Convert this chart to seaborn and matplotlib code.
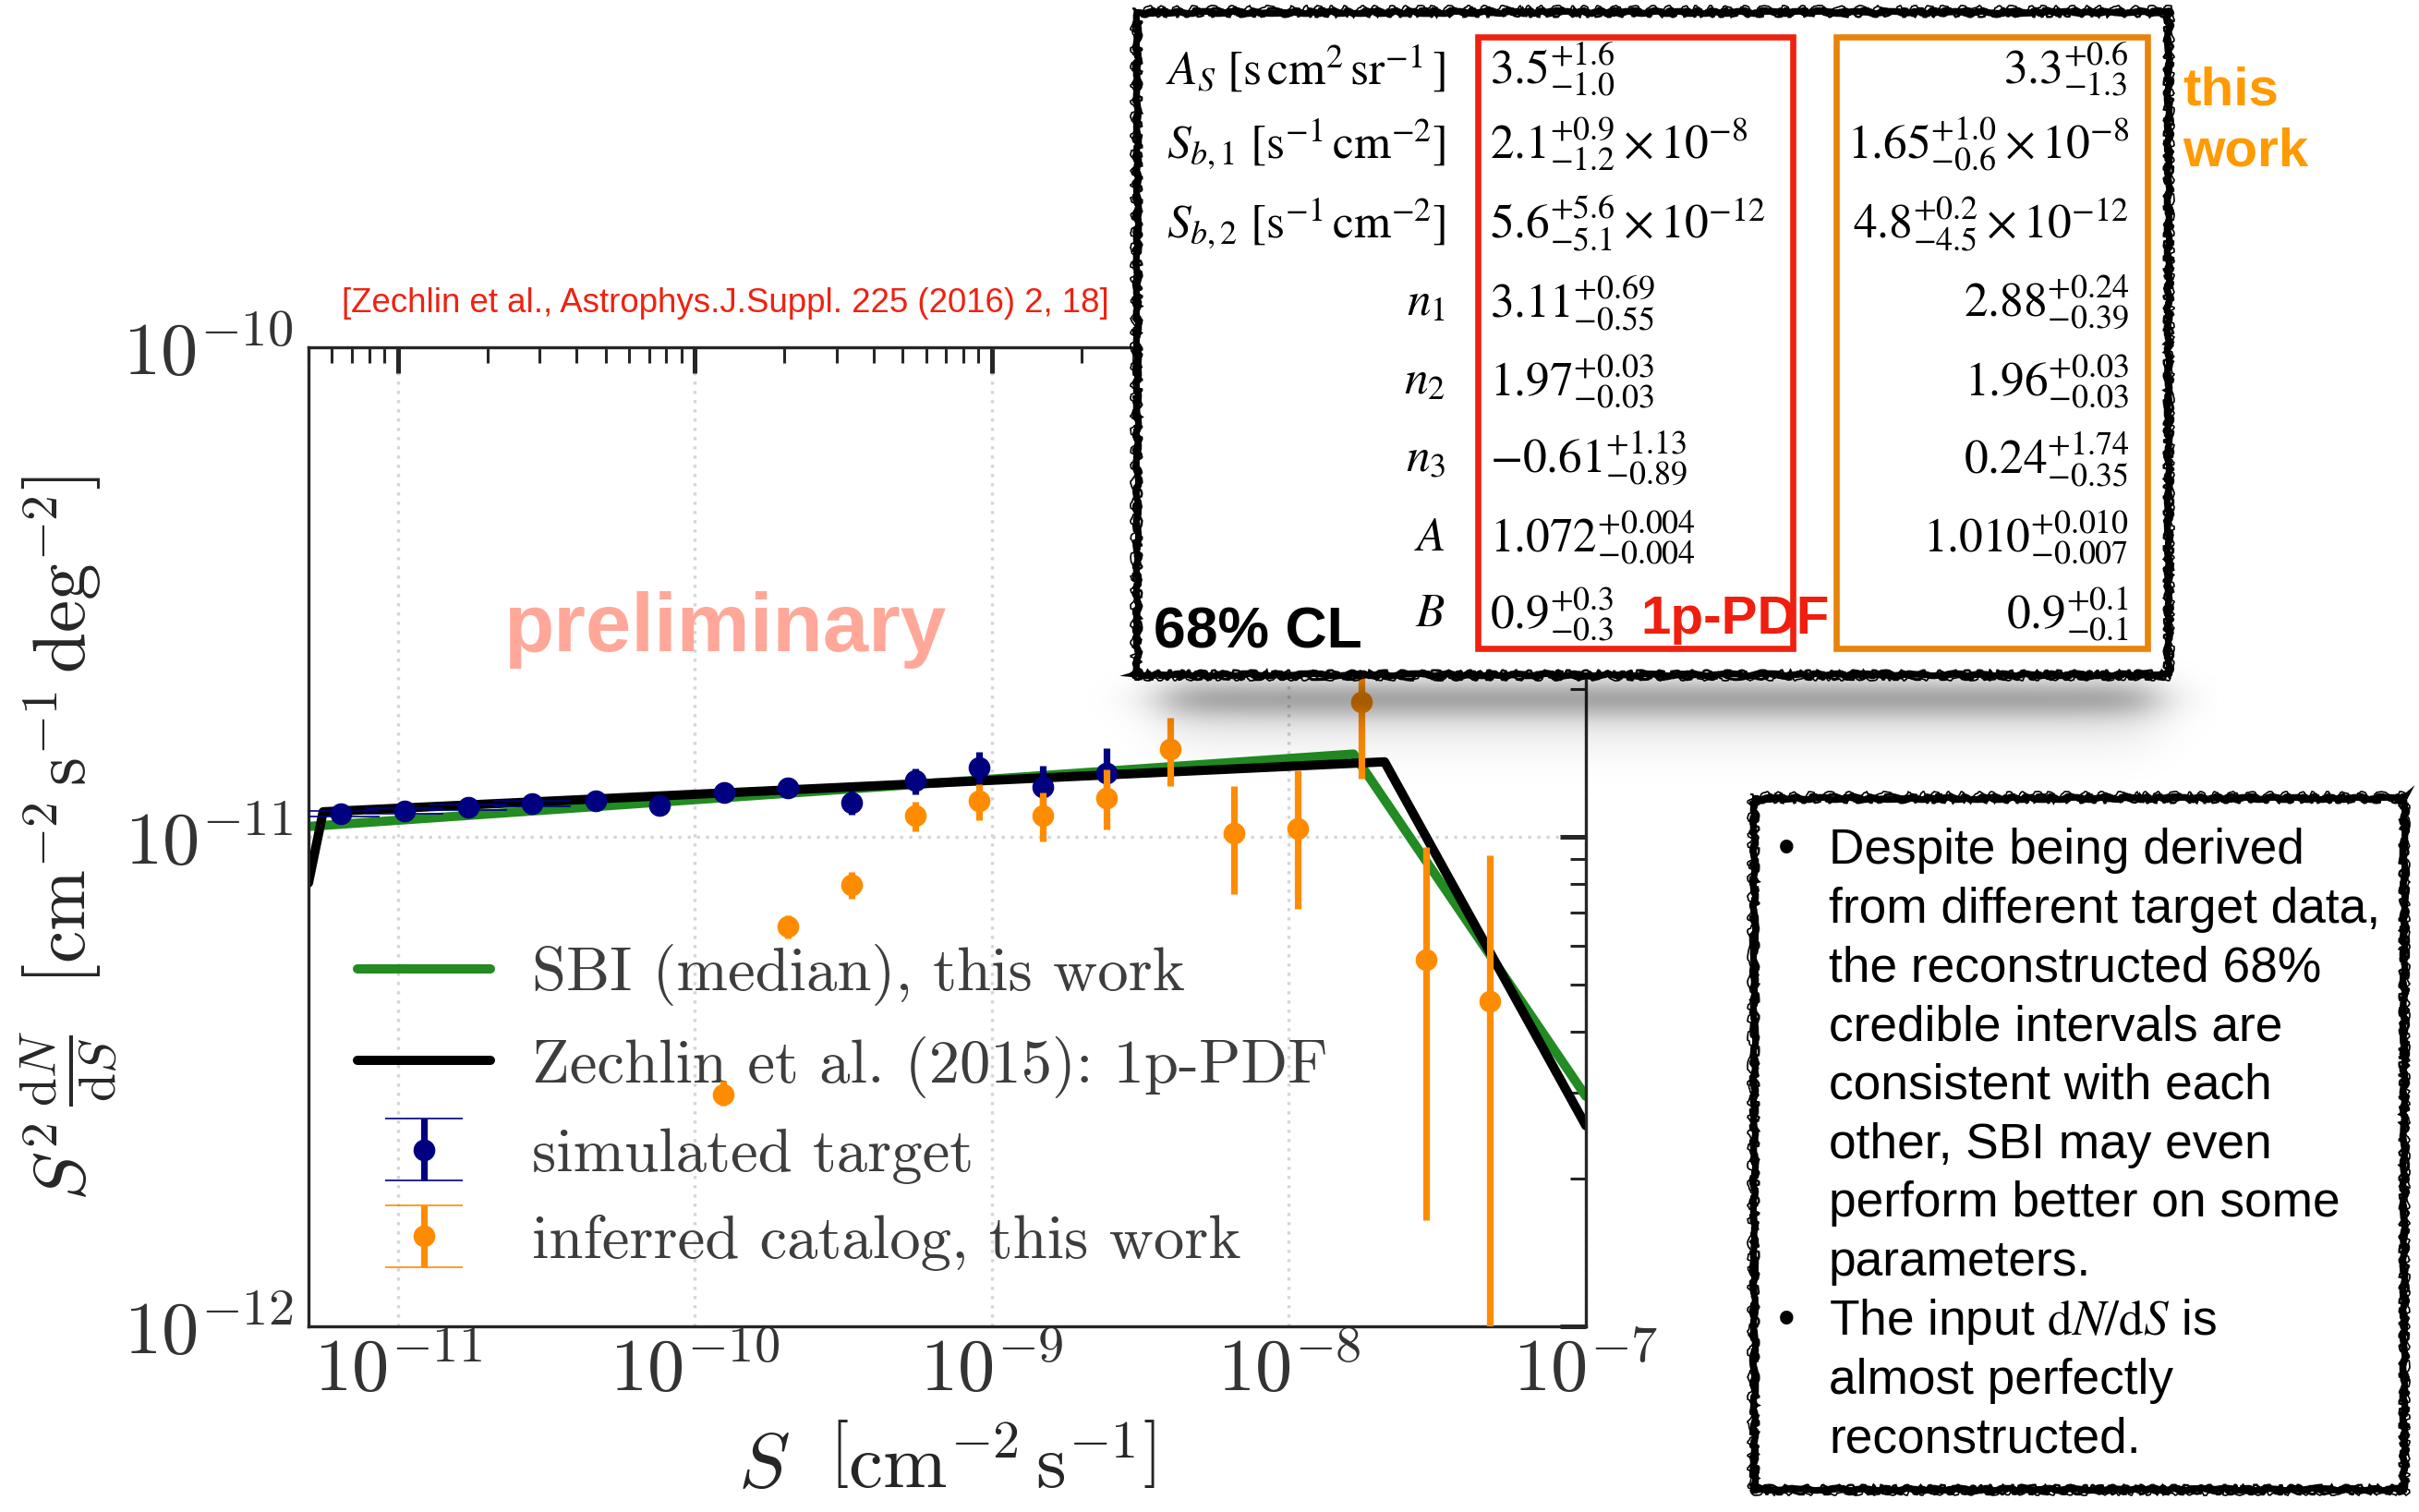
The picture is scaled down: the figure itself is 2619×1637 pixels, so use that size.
import numpy as np
import matplotlib
matplotlib.use("Agg")
import matplotlib.pyplot as plt
from matplotlib.patches import Rectangle
import pandas as pd
import seaborn as sns

# ---------------------------------------------------------------- data
# simulated target catalogue (S, S^2 dN/dS with 68% band)
sim_S = [6.42e-12, 1.05e-11, 1.73e-11, 2.83e-11, 4.64e-11, 7.6e-11, 1.25e-10,
         2.05e-10, 3.36e-10, 5.52e-10, 9.03e-10, 1.48e-9, 2.43e-9]
sim_flux = [1.117e-11, 1.13e-11, 1.15e-11, 1.17e-11, 1.185e-11, 1.16e-11, 1.23e-11,
            1.26e-11, 1.175e-11, 1.303e-11, 1.385e-11, 1.266e-11, 1.349e-11]
sim_lo = [1.10e-11, 1.115e-11, 1.135e-11, 1.155e-11, 1.165e-11, 1.14e-11, 1.205e-11,
          1.235e-11, 1.112e-11, 1.219e-11, 1.287e-11, 1.137e-11, 1.213e-11]
sim_hi = [1.13e-11, 1.145e-11, 1.165e-11, 1.185e-11, 1.205e-11, 1.18e-11, 1.255e-11,
          1.285e-11, 1.241e-11, 1.382e-11, 1.493e-11, 1.397e-11, 1.52e-11]

# inferred catalogue (this work)
cat_S = [1.245e-10, 2.05e-10, 3.36e-10, 5.52e-10, 9.03e-10, 1.48e-9, 2.43e-9,
         3.99e-9, 6.54e-9, 1.072e-8, 1.758e-8, 2.90e-8, 4.74e-8]
cat_flux = [2.98e-12, 6.56e-12, 7.98e-12, 1.105e-11, 1.186e-11, 1.106e-11, 1.202e-11,
            1.508e-11, 1.017e-11, 1.042e-11, 1.882e-11, 5.61e-12, 4.62e-12]
cat_lo = [2.82e-12, 6.19e-12, 7.48e-12, 1.028e-11, 1.081e-11, 9.80e-12, 1.036e-11,
          1.268e-11, 7.65e-12, 7.14e-12, 1.315e-11, 1.65e-12, 5.0e-13]
cat_hi = [3.18e-12, 6.90e-12, 8.48e-12, 1.18e-11, 1.283e-11, 1.234e-11, 1.375e-11,
          1.755e-11, 1.27e-11, 1.369e-11, 2.6e-11, 9.54e-12, 9.18e-12]

# broken power laws (vertices at the breaks)
sbi_S = [5e-12, 1.65e-8, 1e-7]
sbi_flux = [1.05e-11, 1.476e-11, 2.95e-12]
zech_S = [5e-12, 5.6e-12, 2.1e-8, 1e-7]
zech_flux = [8.05e-12, 1.125e-11, 1.423e-11, 2.57e-12]

x_ticks = [1e-11, 1e-10, 1e-9, 1e-8, 1e-7]
x_ticklabels = [r"$10^{-11}$", r"$10^{-10}$", r"$10^{-9}$", r"$10^{-8}$", r"$10^{-7}$"]
y_ticks = [1e-12, 1e-11, 1e-10]
y_ticklabels = [r"$10^{-12}$", r"$10^{-11}$", r"$10^{-10}$"]

legend_labels = ["SBI (median), this work", "Zechlin et al. (2015): 1p-PDF",
                 "simulated target", "inferred catalog, this work"]

# parameter table (68% CL)
row_labels = [r"$A_S\ [\mathrm{s\,cm^2\,sr^{-1}}\,]$",
              r"$S_{b,1}\ [\mathrm{s^{-1}\,cm^{-2}}]$",
              r"$S_{b,2}\ [\mathrm{s^{-1}\,cm^{-2}}]$",
              r"$n_1$", r"$n_2$", r"$n_3$", r"$A$", r"$B$"]
pdf_central = ["3.5", "2.1", "5.6", "3.11", "1.97", "-0.61", "1.072", "0.9"]
pdf_plus = ["1.6", "0.9", "5.6", "0.69", "0.03", "1.13", "0.004", "0.3"]
pdf_minus = ["1.0", "1.2", "5.1", "0.55", "0.03", "0.89", "0.004", "0.3"]
sbi_central = ["3.3", "1.65", "4.8", "2.88", "1.96", "0.24", "1.010", "0.9"]
sbi_plus = ["0.6", "1.0", "0.2", "0.24", "0.03", "1.74", "0.010", "0.1"]
sbi_minus = ["1.3", "0.6", "4.5", "0.39", "0.03", "0.35", "0.007", "0.1"]
row_exponent = [None, "-8", "-12", None, None, None, None, None]

bullet_lines = ["Despite being derived", "from different target data,",
                "the reconstructed 68%", "credible intervals are",
                "consistent with each", "other, SBI may even",
                "perform better on some", "parameters.",
                r"The input $\mathrm{d}N/\mathrm{d}S$ is", "almost perfectly",
                "reconstructed."]
bullet_starts = [0, 8]

# ---------------------------------------------------------------- style
sns.set_theme(style="white")
plt.rcParams["font.family"] = ["Liberation Sans", "DejaVu Sans"]
plt.rcParams["mathtext.fontset"] = "cm"

GREEN, BLACK, NAVY, ORANGE = "#228B22", "#000000", "#000080", "#FF8C00"
W, H, DPI = 2619, 1637, 200
fig = plt.figure(figsize=(W / DPI, H / DPI), dpi=DPI)
fig.patch.set_facecolor("white")

ax = fig.add_axes([334 / W, 1 - 1436 / H, (1717 - 334) / W, (1436 - 376) / H])
ax.set_xscale("log")
ax.set_yscale("log")

sbi_df = pd.DataFrame({"S": sbi_S, "flux": sbi_flux})
zech_df = pd.DataFrame({"S": zech_S, "flux": zech_flux})
sns.lineplot(data=sbi_df, x="S", y="flux", ax=ax, color=GREEN, lw=3.6,
             sort=False, estimator=None, zorder=2)
sns.lineplot(data=zech_df, x="S", y="flux", ax=ax, color=BLACK, lw=3.6,
             sort=False, estimator=None, zorder=2.1)
line_sbi, line_zech = ax.lines[-2], ax.lines[-1]

sim_S_a, sim_f = np.array(sim_S), np.array(sim_flux)
sim_err = [sim_f - np.array(sim_lo), np.array(sim_hi) - sim_f]
ax.errorbar(sim_S_a, sim_f, yerr=sim_err, fmt="o", color=NAVY, ms=7.5,
            elinewidth=2.6, capsize=0, zorder=3)
# thin caps of the narrow low-flux bins
ax.errorbar(sim_S_a[:4], sim_f[:4], yerr=[e[:4] for e in sim_err], fmt="none",
            ecolor=NAVY, elinewidth=0, capsize=15, capthick=0.6, zorder=3)

cat_S_a, cat_f = np.array(cat_S), np.array(cat_flux)
cat_err = [cat_f - np.array(cat_lo), np.array(cat_hi) - cat_f]
ax.errorbar(cat_S_a, cat_f, yerr=cat_err, fmt="o", color=ORANGE, ms=7.5,
            elinewidth=2.6, capsize=0, zorder=3.5)

ax.set_xlim(5e-12, 1e-7)
ax.set_ylim(1e-12, 1e-10)
ax.set_xlabel("")
ax.set_ylabel("")
ax.set_xticks(x_ticks)
ax.set_xticklabels(x_ticklabels)
ax.set_yticks(y_ticks)
ax.set_yticklabels(y_ticklabels)
ax.tick_params(which="major", direction="in", length=10, width=1.8, top=True,
               right=True, colors=".15", labelcolor=".2", labelsize=29)
ax.tick_params(axis="x", which="major", pad=4)
ax.tick_params(axis="y", which="major", pad=6)
ax.tick_params(which="minor", direction="in", length=6, width=1.1, top=True,
               right=True, colors=".15")
ax.grid(True, which="major", ls=(0, (1, 2)), lw=1.2, color="#d5d5d5")
ax.grid(False, which="minor")
for sp in ax.spines.values():
    sp.set_linewidth(1.2)
    sp.set_color(".15")

# legend handles for the error-bar entries (drawn on a hidden axes)
proxy_ax = fig.add_axes([0, 0, 0.001, 0.001])
proxy_ax.set_visible(False)
eb_sim = proxy_ax.errorbar(sim_S[:1], sim_flux[:1], yerr=[[1e-12], [1e-12]],
                           fmt="o", color=NAVY, ms=7.5, elinewidth=2.6,
                           capsize=15, capthick=0.6)
eb_cat = proxy_ax.errorbar(cat_S[:1], cat_flux[:1], yerr=[[1e-12], [1e-12]],
                           fmt="o", color=ORANGE, ms=7.5, elinewidth=2.6,
                           capsize=15, capthick=0.6)
leg = ax.legend([line_sbi, line_zech, eb_sim, eb_cat], legend_labels,
                loc="upper left", bbox_to_anchor=(387 / W, 1 - 1022 / H),
                bbox_transform=fig.transFigure, frameon=False, borderpad=0,
                borderaxespad=0, handlelength=2.16, handletextpad=0.67,
                labelspacing=0.49, prop={"family": "cmr10", "size": 24},
                labelcolor="#3d3d3d")
leg.set_zorder(1.5)

fig.text(1025, H - 1588, r"$S\ \ \left[\mathrm{cm}^{-2}\,\mathrm{s}^{-1}\right]$",
         transform=None, ha="center", va="center", fontsize=30, color=".15")
fig.text(75, H - 908,
         r"$S^2\,\frac{\mathrm{d}N}{\mathrm{d}S}\ \ \left[\mathrm{cm}^{-2}\,\mathrm{s}^{-1}\,\mathrm{deg}^{-2}\right]$",
         transform=None, ha="center", va="center", rotation=90, fontsize=28.5, color=".15")

# ---------------------------------------------------------------- overlay (pixel coordinates)
ov = fig.add_axes([0, 0, 1, 1], zorder=5)
ov.axis("off")

ov.text(785, 329, "[Zechlin et al., Astrophys.J.Suppl. 225 (2016) 2, 18]",
        ha="center", va="center", fontsize=13.2, color="#EE2211")
ov.text(785, 682, "preliminary", ha="center", va="center", fontsize=32,
        weight="bold", color="#FFA899")

# soft drop shadow below the parameter box
sx = np.linspace(1180, 2400, 610)
sy = np.linspace(700, 860, 161)
gx = 1 / (1 + np.exp(-(sx - 1258) / 18)) / (1 + np.exp((sx - 2335) / 18))
gy = 0.26 * np.exp(-0.5 * ((sy - 756) / 15) ** 2) + 0.10 * np.exp(-0.5 * ((sy - 768) / 32) ** 2)
shadow = np.zeros((len(sy), len(sx), 4))
shadow[..., 3] = gy[:, None] * gx[None, :]
ov.imshow(shadow, extent=(1180, 2400, 860, 700), origin="upper", aspect="auto",
          interpolation="bilinear", zorder=1)


def sketch_box(x0, y0, x1, y1):
    ov.add_patch(Rectangle((x0, y0), x1 - x0, y1 - y0, fc="white", ec="none", zorder=2))
    for d, lw, sk in [(0, 2.6, (1.2, 90, 20)), (2.5, 1.1, (2.2, 40, 10)),
                      (-2.0, 0.9, (2.8, 25, 8)), (4.0, 0.6, (3.0, 30, 6))]:
        r = Rectangle((x0 - d, y0 - d), x1 - x0 + 2 * d, y1 - y0 + 2 * d,
                      fill=False, ec="black", lw=lw, zorder=3)
        r.set_sketch_params(*sk)
        ov.add_patch(r)


# parameter table box
sketch_box(1231, 13, 2347, 730)
ov.add_patch(Rectangle((1600, 40), 341, 662, fill=False, ec="#EE2211", lw=2.4, zorder=4))
ov.add_patch(Rectangle((1988, 40), 337, 662, fill=False, ec="#E8830A", lw=2.4, zorder=4))
row_y = [75, 156, 242, 328, 413, 497, 582, 665]
for i, y in enumerate(row_y):
    exp_part = r"\times10^{%s}" % row_exponent[i] if row_exponent[i] else ""
    ov.text(1565, y, row_labels[i], ha="right", va="center", fontsize=18.5,
            math_fontfamily="stix", color="black", zorder=5)
    ov.text(1613, y, r"$%s^{+%s}_{-%s}%s$" % (pdf_central[i], pdf_plus[i], pdf_minus[i], exp_part),
            ha="left", va="center", fontsize=18.5, math_fontfamily="stix", color="black", zorder=5)
    ov.text(2305, y, r"$%s^{+%s}_{-%s}%s$" % (sbi_central[i], sbi_plus[i], sbi_minus[i], exp_part),
            ha="right", va="center", fontsize=18.5, math_fontfamily="stix", color="black", zorder=5)
ov.text(1249, 702, "68% CL", ha="left", va="baseline", fontsize=22.5, weight="bold",
        color="black", zorder=5)
ov.text(1776, 686, "1p-PDF", ha="left", va="baseline", fontsize=21, weight="bold",
        color="#F01E0F", zorder=6)
ov.text(2363, 98, "this", ha="left", va="center", fontsize=21, weight="bold", color="#FF9A00")
ov.text(2363, 164, "work", ha="left", va="center", fontsize=21, weight="bold", color="#FF9A00")

# summary box
sketch_box(1899, 864, 2602, 1612)
for j, line in enumerate(bullet_lines):
    yb = 935 + 63.75 * j
    if j in bullet_starts:
        ov.text(1934, yb, "\u2022", ha="center", va="baseline", fontsize=19.2,
                color="black", zorder=5)
    ov.text(1980, yb, line, ha="left", va="baseline", fontsize=19.2,
            math_fontfamily="stix", color="black", zorder=5)

ov.set_xlim(0, W)
ov.set_ylim(H, 0)

fig.savefig("out.png", dpi=DPI)
